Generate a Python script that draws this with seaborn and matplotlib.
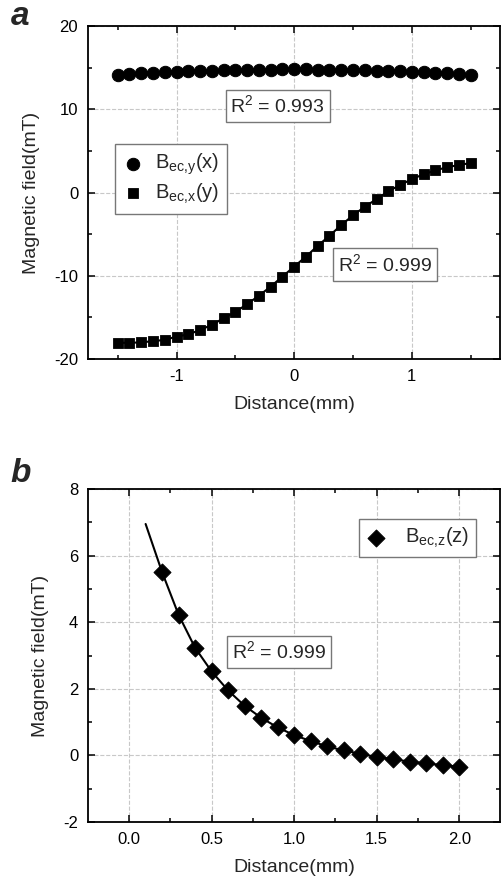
import numpy as np
import pandas as pd
import matplotlib
matplotlib.use('Agg')
import matplotlib.pyplot as plt
import seaborn as sns

# panel a data
dist_a = [-1.5, -1.4, -1.3, -1.2, -1.1, -1.0, -0.9, -0.8, -0.7, -0.6, -0.5,
          -0.4, -0.3, -0.2, -0.1, 0.0, 0.1, 0.2, 0.3, 0.4, 0.5,
          0.6, 0.7, 0.8, 0.9, 1.0, 1.1, 1.2, 1.3, 1.4, 1.5]
b_y = [14.15, 14.25, 14.35, 14.4, 14.45, 14.5, 14.55, 14.6, 14.65, 14.7, 14.72,
       14.75, 14.77, 14.78, 14.8, 14.8, 14.8, 14.78, 14.77, 14.75, 14.72,
       14.7, 14.65, 14.6, 14.55, 14.5, 14.45, 14.4, 14.35, 14.25, 14.15]
b_x = [-18.05, -18.05, -18.0, -17.85, -17.7, -17.3, -17.05, -16.5, -15.9, -15.1, -14.35,
       -13.4, -12.4, -11.3, -10.1, -8.9, -7.7, -6.4, -5.2, -3.9, -2.75,
       -1.7, -0.8, 0.15, 0.9, 1.6, 2.2, 2.65, 3.05, 3.3, 3.55]

# panel b data
dist_b = [0.2, 0.3, 0.4, 0.5, 0.6, 0.7, 0.8, 0.9, 1.0, 1.1,
          1.2, 1.3, 1.4, 1.5, 1.6, 1.7, 1.8, 1.9, 2.0]
b_z = [5.5, 4.22, 3.23, 2.52, 1.95, 1.49, 1.13, 0.84, 0.61, 0.43,
       0.27, 0.15, 0.05, -0.05, -0.11, -0.19, -0.24, -0.29, -0.34]
fit_x = [0.1] + dist_b
fit_z = [6.95] + b_z

sns.set_theme(style='ticks')
plt.rcParams['font.family'] = ['Liberation Sans', 'DejaVu Sans']
plt.rcParams['mathtext.fontset'] = 'custom'
plt.rcParams['mathtext.rm'] = 'Liberation Sans'
plt.rcParams['axes.unicode_minus'] = False

fig = plt.figure(figsize=(5.02, 8.80), dpi=100)
ax1 = fig.add_axes([0.175, 0.592, 0.822, 0.3784])
ax2 = fig.add_axes([0.175, 0.0659, 0.822, 0.3784])


def style_axes(ax):
    ax.grid(True, which='major', color='#c8c8c8', linestyle='--', linewidth=0.8)
    ax.set_axisbelow(True)
    for s in ax.spines.values():
        s.set_color('black')
        s.set_linewidth(1.3)
    ax.tick_params(which='both', direction='in', top=True, right=True,
                   labelsize=12, colors='black', width=1.1)
    ax.tick_params(which='major', length=5, pad=7)
    ax.tick_params(which='minor', length=3)
    ax.set_ylabel('Magnetic field(mT)', fontsize=14, labelpad=10)
    ax.set_xlabel('Distance(mm)', fontsize=14, labelpad=9)


# ---- panel a ----
da = pd.DataFrame({'d': dist_a, 'by': b_y, 'bx': b_x})
sns.lineplot(data=da, x='d', y='bx', ax=ax1, color='black', lw=1.5, legend=False)
sns.lineplot(data=da, x='d', y='by', ax=ax1, color='black', lw=1.5, legend=False)
sns.scatterplot(data=da, x='d', y='by', ax=ax1, marker='o', s=80, color='black',
                edgecolor='black', label=r'B$_{\mathregular{ec{,}y}}$(x)')
sns.scatterplot(data=da, x='d', y='bx', ax=ax1, marker='s', s=55, color='black',
                edgecolor='black', label=r'B$_{\mathregular{ec{,}x}}$(y)')
ax1.set_xlim(-1.754, 1.754)
ax1.set_ylim(-20, 20)
ax1.set_xticks([-1, 0, 1])
ax1.set_xticks([-1.5, -0.5, 0.5, 1.5], minor=True)
ax1.set_yticks([-20, -10, 0, 10, 20])
ax1.set_yticks([-15, -5, 5, 15], minor=True)
style_axes(ax1)
leg = ax1.legend(loc='upper left', bbox_to_anchor=(0.065, 0.646), borderaxespad=0,
                 fontsize=14.5, fancybox=False, edgecolor='#777777', framealpha=1,
                 handlelength=1.0, handletextpad=0.6, borderpad=0.4, labelspacing=0.2)
leg.get_frame().set_linewidth(1.0)

box = dict(boxstyle='square,pad=0.25', facecolor='white', edgecolor='#777777', lw=1.0)
ax1.text(-0.14, 10.4, r'R$^{2}$ = 0.993', fontsize=14, ha='center', va='center', bbox=box)
ax1.text(0.77, -8.65, r'R$^{2}$ = 0.999', fontsize=14, ha='center', va='center', bbox=box)

# ---- panel b ----
db = pd.DataFrame({'d': dist_b, 'bz': b_z})
dfit = pd.DataFrame({'d': fit_x, 'bz': fit_z})
sns.lineplot(data=dfit, x='d', y='bz', ax=ax2, color='black', lw=1.5, legend=False)
sns.scatterplot(data=db, x='d', y='bz', ax=ax2, marker='D', s=75, color='black',
                edgecolor='black', label=r'B$_{\mathregular{ec{,}z}}$(z)')
ax2.set_xlim(-0.25, 2.25)
ax2.set_ylim(-2, 8)
ax2.set_xticks([0.0, 0.5, 1.0, 1.5, 2.0])
ax2.set_xticks([0.25, 0.75, 1.25, 1.75], minor=True)
ax2.set_xticklabels(['0.0', '0.5', '1.0', '1.5', '2.0'])
ax2.set_yticks([-2, 0, 2, 4, 6, 8])
ax2.set_yticks([-1, 1, 3, 5, 7], minor=True)
style_axes(ax2)
leg2 = ax2.legend(loc='upper right', bbox_to_anchor=(0.94, 0.91), borderaxespad=0,
                  fontsize=14.5, fancybox=False, edgecolor='#777777', framealpha=1,
                  handlelength=1.0, handletextpad=0.9, borderpad=0.35)
leg2.get_frame().set_linewidth(1.0)
ax2.text(0.91, 3.1, r'R$^{2}$ = 0.999', fontsize=14, ha='center', va='center', bbox=box)

fig.text(0.022, 0.9716, 'a', fontsize=24, fontweight='bold', style='italic', va='baseline')
fig.text(0.02, 0.4523, 'b', fontsize=24, fontweight='bold', style='italic', va='baseline')

fig.savefig('out.png', dpi=100)
